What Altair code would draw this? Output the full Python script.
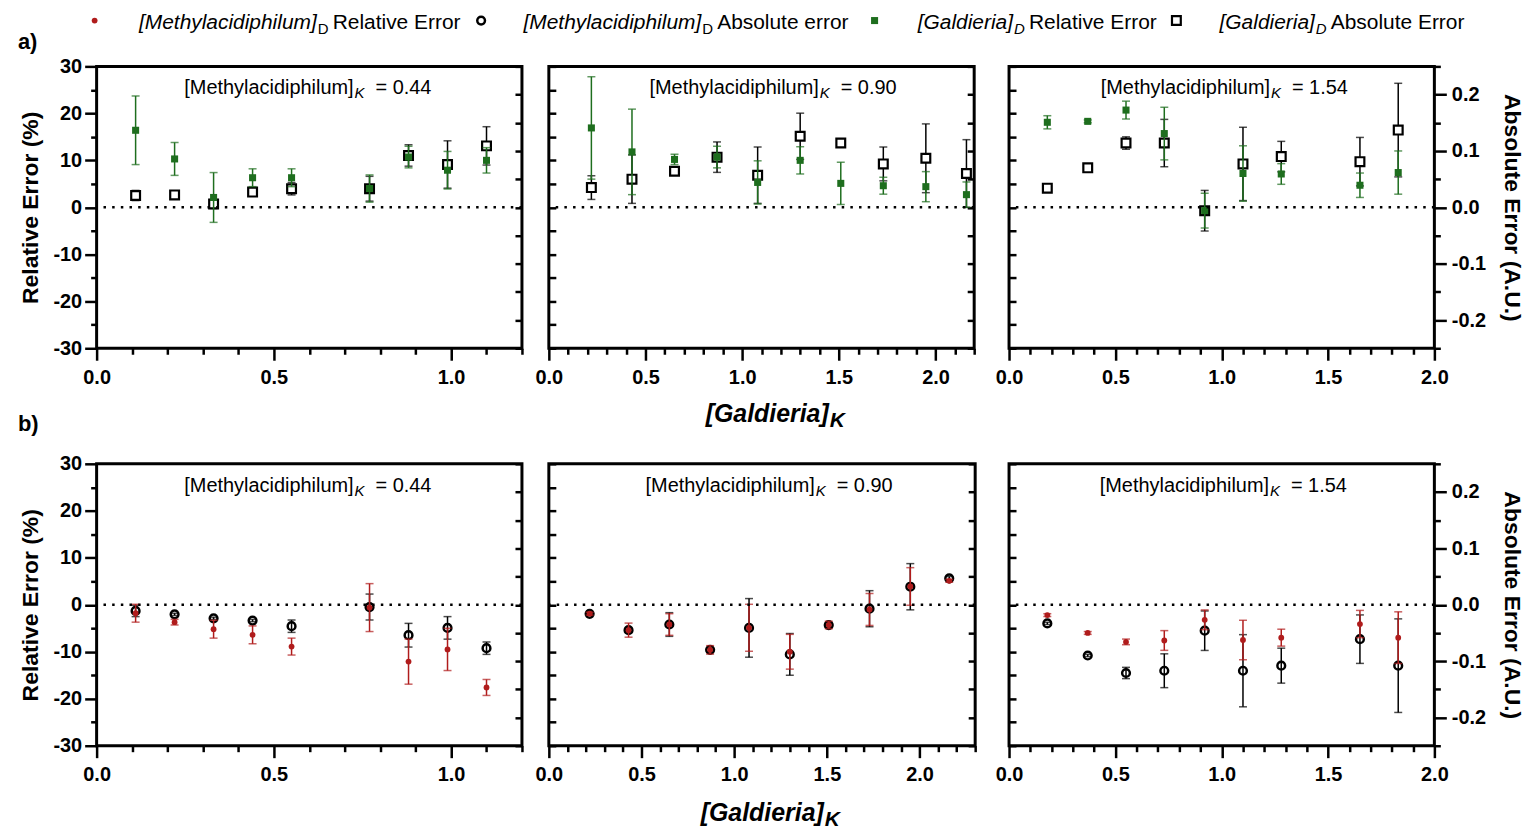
import altair as alt
import pandas as pd

# ------------------------------------------------------------------ data
# [Galdieria]_K values of the three panels of each row
gk_044 = [0.11, 0.22, 0.33, 0.44, 0.55, 0.77, 0.88, 0.99, 1.10]
gk_090 = [0.22, 0.43, 0.65, 0.87, 1.08, 1.30, 1.51, 1.73, 1.95, 2.16]
gk_154 = [0.18, 0.37, 0.55, 0.73, 0.92, 1.10, 1.28, 1.65, 1.83]

# a) [Galdieria]_D : relative error (%) and absolute error (A.U.), mean and error
g_rel_044 = [16.4, 10.3, 2.1, 6.3, 6.3, 4.0, 10.7, 7.9, 10.0]
g_rel_err_044 = [7.3, 3.5, 5.3, 1.9, 1.9, 2.9, 2.3, 4.0, 2.7]
g_abs_044 = [0.021, 0.022, 0.006, 0.027, 0.033, 0.033, 0.092, 0.076, 0.109]
g_abs_err_044 = [0.009, 0.002, 0.008, 0.002, 0.011, 0.022, 0.019, 0.042, 0.034]

g_rel_090 = [16.9, 11.8, 10.2, 10.7, 5.3, 10.0, 5.1, 4.6, 4.4, 2.7]
g_rel_err_090 = [10.9, 9.1, 1.1, 2.3, 4.6, 2.9, 4.5, 1.8, 3.2, 2.7]
g_abs_090 = [0.035, 0.050, 0.064, 0.089, 0.057, 0.126, 0.114, 0.077, 0.087, 0.060]
g_abs_err_090 = [0.021, 0.043, 0.003, 0.027, 0.050, 0.041, 0.004, 0.030, 0.061, 0.060]

g_rel_154 = [18.1, 18.3, 20.7, 15.7, -0.7, 7.2, 7.1, 4.7, 7.4]
g_rel_err_154 = [1.4, 0.3, 1.9, 5.6, 3.7, 5.9, 2.2, 2.6, 4.6]
g_abs_154 = [0.034, 0.070, 0.114, 0.114, -0.006, 0.077, 0.090, 0.081, 0.137]
g_abs_err_154 = [0.002, 0.003, 0.011, 0.042, 0.036, 0.065, 0.027, 0.043, 0.083]

# b) [Methylacidiphilum]_D
m_rel_044 = [-1.8, -3.7, -5.2, -6.4, -8.9, -0.6, -12.1, -9.5, -17.6]
m_rel_err_044 = [1.9, 0.6, 1.9, 1.9, 1.8, 5.1, 4.8, 4.5, 1.7]
m_abs_044 = [-0.011, -0.017, -0.024, -0.028, -0.038, -0.004, -0.054, -0.041, -0.077]
m_abs_err_044 = [0.010, 0.002, 0.002, 0.002, 0.011, 0.023, 0.021, 0.020, 0.011]

m_rel_090 = [-1.9, -5.4, -4.2, -9.6, -4.9, -10.0, -4.3, -1.0, 3.9, 5.1]
m_rel_err_090 = [0.3, 1.5, 2.3, 0.9, 5.0, 3.7, 0.8, 3.4, 4.0, 0.3]
m_abs_090 = [-0.016, -0.045, -0.035, -0.080, -0.041, -0.088, -0.036, -0.007, 0.032, 0.047]
m_abs_err_090 = [0.002, 0.004, 0.021, 0.003, 0.052, 0.037, 0.004, 0.032, 0.041, 0.003]

m_rel_154 = [-2.2, -6.0, -7.9, -7.6, -3.2, -7.5, -7.0, -4.1, -7.0]
m_rel_err_154 = [0.3, 0.3, 0.6, 2.1, 2.1, 4.2, 1.8, 2.9, 5.5]
m_abs_154 = [-0.033, -0.090, -0.121, -0.117, -0.046, -0.117, -0.108, -0.061, -0.108]
m_abs_err_154 = [0.002, 0.002, 0.010, 0.030, 0.035, 0.064, 0.031, 0.043, 0.083]

methyl_k_labels = ["0.44", "0.90", "1.54"]
x_max_a = [1.2, 2.2, 2.0]
x_max_b = [1.2, 2.3, 2.0]
row_labels = ["a)", "b)"]
legend_names = ["[Methylacidiphilum]", "[Methylacidiphilum]", "[Galdieria]", "[Galdieria]"]
legend_rest = ["Relative Error", "Absolute error", "Relative Error", "Absolute Error"]

# ------------------------------------------------------------------ style
FONT = "Liberation Sans"
GREEN = "#1e6e1e"
RED = "#b01c1c"
H = 283
REL_VALS = list(range(-30, 31, 5))
ABS_VALS = [-0.25, -0.2, -0.15, -0.1, -0.05, 0.0, 0.05, 0.1, 0.15, 0.2, 0.25]
TICK = dict(tickColor="black", tickWidth=2.5, domain=False, grid=False)
LAB = dict(labelFont=FONT, labelFontSize=20, labelFontWeight="bold", labelColor="black",
           labelOverlap=False, labelFlush=False)
TIT = dict(titleFont=FONT, titleFontSize=23, titleFontWeight="bold", titleColor="black")


def one(**kw):
    return pd.DataFrame({k: [v] for k, v in kw.items()})


def txt(df, field, x, y, size, align="left", weight="normal", style="normal"):
    return alt.Chart(df).mark_text(align=align, baseline="alphabetic", font=FONT, fontSize=size,
                                   fontWeight=weight, fontStyle=style, color="black").encode(
        x=alt.value(x), y=alt.value(y), text=alt.Text(field + ":N"))


def make_panel(xs, rel, rel_err, ab, ab_err, xmax, width, pos, kind, k_label, ann_xr,
               row_label=None, xtitle=None, legend=False, anchor=False):
    df = pd.DataFrame({
        "x": xs, "rel": rel,
        "rlo": [v - e for v, e in zip(rel, rel_err)],
        "rhi": [v + e for v, e in zip(rel, rel_err)],
        "ab": ab,
        "alo": [v - e for v, e in zip(ab, ab_err)],
        "ahi": [v + e for v, e in zip(ab, ab_err)],
    })
    base = alt.Chart(df)
    xscale = alt.Scale(domain=[0, xmax], nice=False, zero=False)
    nx = int(round(xmax * 10))
    xvals = [round(i * 0.1, 1) for i in range(nx + 1)]
    major_x = "round(datum.value * 10) % 5 === 0"
    xaxis = alt.Axis(values=xvals, title=None, labelPadding=7, orient="bottom",
                     labelExpr=major_x + " ? format(datum.value, '.1f') : ''",
                     tickSize={"condition": {"test": major_x, "value": 12}, "value": 6},
                     **TICK, **LAB)
    # the same x axis on every layer so that the shared axis merges cleanly
    X = alt.X("x:Q", scale=xscale, axis=xaxis)
    rel_scale = alt.Scale(domain=[-30, 30], nice=False, zero=False)
    abs_scale = alt.Scale(domain=[-0.25, 0.25], nice=False, zero=False)

    if pos == "left":
        rel_axis = alt.Axis(orient="left", values=REL_VALS, title="Relative Error (%)",
                            titlePadding=10, labelPadding=3,
                            labelExpr="datum.value % 10 === 0 ? '' + datum.value : ''",
                            tickSize={"condition": {"test": "datum.value % 10 === 0", "value": 12},
                                      "value": 6},
                            **TICK, **LAB, **TIT)
    else:
        rel_axis = alt.Axis(orient="right", offset=-width, values=REL_VALS, labels=False,
                            title=None, tickSize=7, **TICK)
    if pos == "right":
        major_a = "abs(round(datum.value * 100)) % 10 === 0"
        abs_axis = alt.Axis(orient="right", values=ABS_VALS, title="Absolute Error (A.U.)",
                            titleAngle=90, titlePadding=14, labelPadding=5,
                            labelExpr=major_a + " ? (datum.value < 0 ? '-' : '') + format(abs(datum.value), '.1f') : ''",
                            tickSize={"condition": {"test": major_a, "value": 12}, "value": 6},
                            **TICK, **LAB, **TIT)
    else:
        abs_axis = alt.Axis(orient="left", offset=-width, values=ABS_VALS, labels=False,
                            title=None, tickSize=7, **TICK)

    if kind == "G":
        abs_pts = base.mark_square(size=78, fill="white", stroke="black", strokeWidth=2.2, opacity=1)
        rel_pts = base.mark_square(size=50, color=GREEN, opacity=1)
        rel_col = GREEN
    else:
        abs_pts = base.mark_point(shape="circle", filled=False, size=60, color="black",
                                  strokeWidth=2.5, opacity=1)
        rel_pts = base.mark_circle(size=34, color=RED, opacity=1)
        rel_col = RED

    # every layer has an explicit domain, so independent y scales coincide
    parts = [
        # black: absolute error (right axis)
        base.mark_rule(color="black", strokeWidth=1.5).encode(
            x=X, y=alt.Y("alo:Q", scale=abs_scale, axis=abs_axis), y2="ahi:Q"),
        base.mark_tick(orient="horizontal", color="black", size=8, thickness=1.5).encode(
            x=X, y=alt.Y("alo:Q", scale=abs_scale, axis=None)),
        base.mark_tick(orient="horizontal", color="black", size=8, thickness=1.5).encode(
            x=X, y=alt.Y("ahi:Q", scale=abs_scale, axis=None)),
        abs_pts.encode(x=X, y=alt.Y("ab:Q", scale=abs_scale, axis=None)),
        # coloured: relative error (left axis)
        base.mark_rule(color=rel_col, strokeWidth=1.5).encode(
            x=X, y=alt.Y("rlo:Q", scale=rel_scale, axis=rel_axis), y2="rhi:Q"),
        base.mark_tick(orient="horizontal", color=rel_col, size=8, thickness=1.5).encode(
            x=X, y=alt.Y("rlo:Q", scale=rel_scale, axis=None)),
        base.mark_tick(orient="horizontal", color=rel_col, size=8, thickness=1.5).encode(
            x=X, y=alt.Y("rhi:Q", scale=rel_scale, axis=None)),
        rel_pts.encode(x=X, y=alt.Y("rel:Q", scale=rel_scale, axis=None)),
        alt.Chart(one(z=0)).mark_rule(color="black", strokeWidth=2.5, strokeDash=[2.5, 6.2]).encode(
            y=alt.Y("z:Q", scale=rel_scale, axis=None)),
    ]
    ann = one(name="[Methylacidiphilum]", sub="K", val="= " + k_label)
    parts += [
        txt(ann, "name", ann_xr, 28, 20, align="right"),
        txt(ann, "sub", ann_xr + 1, 32, 15, style="italic"),
        txt(ann, "val", ann_xr + 22, 28, 20),
    ]
    if row_label is not None:
        parts.append(txt(one(t=row_label[0]), "t", -79, row_label[1], 22, weight="bold"))
    if xtitle is not None:
        xt = one(name="[Galdieria]", sub="K")
        parts.append(txt(xt, "name", xtitle[0], H + xtitle[1], 25, align="right", weight="bold", style="italic"))
        parts.append(txt(xt, "sub", xtitle[0] + 1, H + xtitle[1] + 5, 21, weight="bold", style="italic"))
    if legend:
        mk_x = [-2, 386, 781, 1084]
        name_end = [221, 607, 920, 1223]
        my = -46
        ty = -38
        parts += [
            alt.Chart(one(a=0)).mark_circle(size=34, color=RED, opacity=1).encode(
                x=alt.value(mk_x[0]), y=alt.value(my)),
            alt.Chart(one(a=0)).mark_point(shape="circle", filled=False, size=60, color="black",
                                           strokeWidth=2.5, opacity=1).encode(
                x=alt.value(mk_x[1]), y=alt.value(my)),
            alt.Chart(one(a=0)).mark_square(size=50, color=GREEN, opacity=1).encode(
                x=alt.value(mk_x[2]), y=alt.value(my)),
            alt.Chart(one(a=0)).mark_square(size=78, fill="white", stroke="black",
                                            strokeWidth=2.2, opacity=1).encode(
                x=alt.value(mk_x[3]), y=alt.value(my)),
        ]
        for i in range(4):
            ld = one(name=legend_names[i], sub="D", rest=legend_rest[i])
            parts.append(txt(ld, "name", name_end[i], ty, 21, align="right", style="italic"))
            parts.append(txt(ld, "sub", name_end[i] + 1, ty + 5, 15,
                             style="italic" if i >= 2 else "normal"))
            parts.append(txt(ld, "rest", name_end[i] + 16, ty, 21))
    if anchor:
        parts.append(alt.Chart(one(a=0)).mark_point(size=1, opacity=0).encode(
            x=alt.value(-95), y=alt.value(-63)))

    return alt.layer(*parts).resolve_scale(y="independent").resolve_axis(
        y="independent").properties(width=width, height=H,
                                    view=alt.ViewBackground(stroke="black", strokeWidth=3))


def spacer(w):
    return alt.Chart(one(a=0)).mark_point(opacity=0).encode(
        x=alt.value(0), y=alt.value(0)).properties(width=w, height=H)


cells = [
    make_panel(gk_044, g_rel_044, g_rel_err_044, g_abs_044, g_abs_err_044, x_max_a[0], 427, "left", "G",
               methyl_k_labels[0], 258, row_label=(row_labels[0], -17), legend=True, anchor=True),
    spacer(19),
    make_panel(gk_090, g_rel_090, g_rel_err_090, g_abs_090, g_abs_err_090, x_max_a[1], 427, "mid", "G",
               methyl_k_labels[1], 271, xtitle=(281, 74)),
    spacer(34),
    make_panel(gk_154, g_rel_154, g_rel_err_154, g_abs_154, g_abs_err_154, x_max_a[2], 427, "right", "G",
               methyl_k_labels[2], 262),
    make_panel(gk_044, m_rel_044, m_rel_err_044, m_abs_044, m_abs_err_044, x_max_b[0], 427, "left", "M",
               methyl_k_labels[0], 258, row_label=(row_labels[1], -33)),
    spacer(27),
    make_panel(gk_090, m_rel_090, m_rel_err_090, m_abs_090, m_abs_err_090, x_max_b[1], 428, "mid", "M",
               methyl_k_labels[1], 267, xtitle=(276, 76)),
    spacer(29),
    make_panel(gk_154, m_rel_154, m_rel_err_154, m_abs_154, m_abs_err_154, x_max_b[2], 427, "right", "M",
               methyl_k_labels[2], 261),
]

chart = alt.concat(*cells, columns=5, spacing={"row": 116, "column": 0}, bounds="flush",
                   align="none").properties(
    padding={"left": 0, "top": 0, "right": 6, "bottom": 4}, background="white"
).configure(font=FONT).configure_view(stroke="transparent")

chart.save("out.html", embed_options={"renderer": "svg", "actions": False})
